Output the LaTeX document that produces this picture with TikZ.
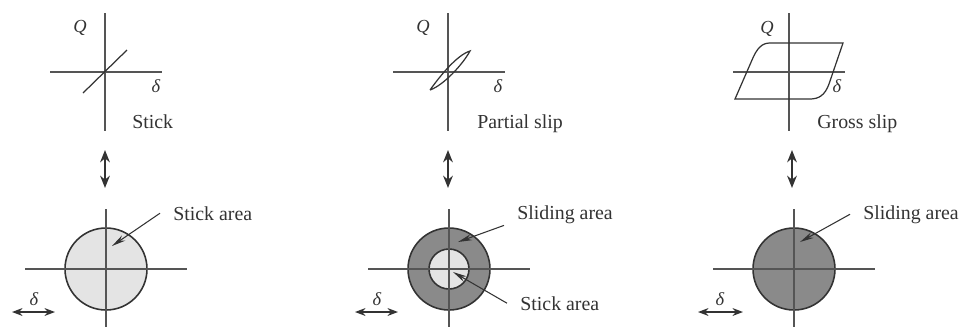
\documentclass[tikz,border=0pt]{standalone}
\usepackage{fontspec}
\setmainfont{Liberation Serif}
\usetikzlibrary{arrows.meta}

\definecolor{axisgray}{HTML}{555555}
\definecolor{inkgray}{HTML}{333333}
\definecolor{stickfill}{HTML}{E4E4E4}
\definecolor{slidefill}{HTML}{8A8A8A}

\begin{document}
\begin{tikzpicture}[x=0.02cm,y=-0.02cm,
  axis/.style={draw=axisgray,line width=0.6pt},
  curve/.style={draw=inkgray,line width=0.7pt},
  disc/.style={draw=inkgray,line width=0.9pt},
  lbl/.style={anchor=base west,inner sep=0pt,text=inkgray,font=\fontsize{11.3}{13}\selectfont},
  arealbl/.style={lbl,inner xsep=7.4pt,inner ysep=1pt},
  var/.style={inner sep=0pt,text=inkgray,font=\fontsize{10.5}{12}\selectfont\itshape},
  leader/.style={draw=inkgray,line width=0.6pt,-{Stealth[length=8pt,width=3.5pt]}},
  dbl/.style={draw=inkgray,line width=1.1pt,{Stealth[length=7pt,width=5.5pt]}-{Stealth[length=7pt,width=5.5pt]}},
  disp/.style={draw=inkgray,line width=0.8pt,{Stealth[length=6pt,width=4.5pt]}-{Stealth[length=6pt,width=4.5pt]}}]
  \useasboundingbox (0,0) rectangle (960,329);

  % stick
  \draw[axis] (105,13) -- (105,131);
  \draw[axis] (50,72) -- (162,72);
  \draw[curve] (83,93) -- (127,50);
  \node[var] (Q1) at (80,28) {Q};
  \node[var] (d1) at (156,86) {δ};
  \node[lbl] (mode1) at (132,128) {Stick};
  \coordinate (up1) at (105,150);
  \coordinate (down1) at (105,188);
  \draw[dbl] (up1) -- (down1);
  \draw[disc,fill=stickfill] (106,269) circle [radius=41];
  \draw[axis] (106,209) -- (106,327);
  \draw[axis] (25,269) -- (187,269);
  \node[arealbl] (area1) at (160,220) {Stick area};
  \coordinate (tip1) at (112,246);
  \draw[leader] (area1.west) -- (tip1);
  \node[var] (s1) at (34,299) {δ};
  \coordinate (l1) at (12,312);
  \coordinate (r1) at (55,312);
  \draw[disp] (l1) -- (r1);

  % partial slip
  \draw[axis] (448,13) -- (448,131);
  \draw[axis] (393,72) -- (505,72);
  \draw[curve] (430,90) .. controls (440,76) and (457,55) .. (470,51)
    .. controls (463,64) and (444,85) .. (430,90);
  \node[var] (Q2) at (423,28) {Q};
  \node[var] (d2) at (498,86) {δ};
  \node[lbl] (mode2) at (477,128) {Partial slip};
  \coordinate (up2) at (448,150);
  \coordinate (down2) at (448,188);
  \draw[dbl] (up2) -- (down2);
  \draw[disc,fill=slidefill] (449,269) circle [radius=41];
  \draw[disc,fill=stickfill] (449,269) circle [radius=20];
  \draw[axis] (449,209) -- (449,327);
  \draw[axis] (368,269) -- (530,269);
  \node[arealbl] (area2) at (504,219) {Sliding area};
  \node[arealbl] (area3) at (507,310) {Stick area};
  \coordinate (tip2) at (458,242);
  \coordinate (tip3) at (453,272);
  \draw[leader] (area2.south west) -- (tip2);
  \draw[leader] (area3.west) -- (tip3);
  \node[var] (s2) at (377,299) {δ};
  \coordinate (l2) at (355,312);
  \coordinate (r2) at (398,312);
  \draw[disp] (l2) -- (r2);

  % gross slip
  \draw[axis] (789,13) -- (789,131);
  \draw[axis] (733,72) -- (845,72);
  \draw[curve] (735,99) -- (752,60) .. controls (757,48) and (762,43) .. (770,43)
    -- (843,43) -- (829,84) .. controls (825,95) and (819,99) .. (810,99) -- cycle;
  \node[var] (Q3) at (767,29) {Q};
  \node[var] (d3) at (837,86) {δ};
  \node[lbl] (mode3) at (817,128) {Gross slip};
  \coordinate (up3) at (792,150);
  \coordinate (down3) at (792,188);
  \draw[dbl] (up3) -- (down3);
  \draw[disc,fill=slidefill] (794,269) circle [radius=41];
  \draw[axis] (794,209) -- (794,327);
  \draw[axis] (713,269) -- (875,269);
  \node[arealbl] (area4) at (850,219) {Sliding area};
  \coordinate (tip4) at (800,242);
  \draw[leader] (area4.west) -- (tip4);
  \node[var] (s3) at (720,299) {δ};
  \coordinate (l3) at (698,312);
  \coordinate (r3) at (743,312);
  \draw[disp] (l3) -- (r3);
\end{tikzpicture}
\end{document}
